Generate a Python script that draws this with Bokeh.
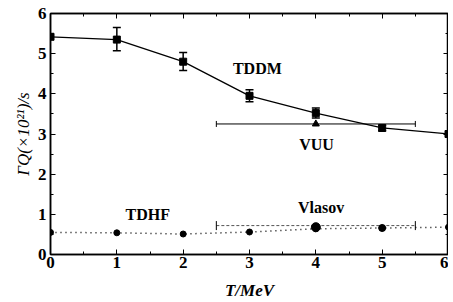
from bokeh.plotting import figure
from bokeh.models import Range1d, LinearAxis, Whisker, ColumnDataSource, Label, SingleIntervalTicker
from bokeh.embed import file_html
from bokeh.resources import INLINE

# TDDM
tddm_T = [0, 1, 2, 3, 4, 5, 6]
tddm_G = [5.42, 5.35, 4.80, 3.95, 3.52, 3.15, 3.00]
tddm_lo = [5.42, 5.07, 4.58, 3.80, 3.40, 3.08, 3.00]
tddm_hi = [5.42, 5.65, 5.03, 4.10, 3.65, 3.22, 3.00]

# VUU
vuu_T = [4]
vuu_G = [3.25]
vuu_Tlo = [2.5]
vuu_Thi = [5.5]

# TDHF
tdhf_T = [0, 1, 2, 3, 4, 5, 6]
tdhf_G = [0.55, 0.54, 0.51, 0.56, 0.64, 0.66, 0.68]

# Vlasov
vl_T = [4, 5]
vl_G = [0.68, 0.66]
vl_Tlo = [2.5]
vl_Thi = [5.5]
vl_Gbar = [0.72]

FONT = "Liberation Serif"

p = figure(width=448, height=302, output_backend="svg", toolbar_location=None,
           x_range=Range1d(0, 6), y_range=Range1d(0, 6),
           min_border_left=50, min_border_right=0, min_border_top=13, min_border_bottom=46)
p.grid.visible = False
p.outline_line_color = "black"
p.outline_line_width = 1.5

for ax in [p.xaxis[0], p.yaxis[0]]:
    ax.ticker = SingleIntervalTicker(interval=1, num_minor_ticks=2)
    ax.major_tick_in = 5
    ax.major_tick_out = 0
    ax.minor_tick_in = 3
    ax.minor_tick_out = 0
    ax.axis_line_width = 1.5
    ax.major_label_text_font = FONT
    ax.major_label_text_font_style = "bold"
    ax.major_label_text_font_size = "17px"
    ax.major_label_text_color = "black"
    ax.axis_label_text_font = FONT
    ax.axis_label_text_font_size = "17px"
    ax.axis_label_text_font_style = "bold italic"
    ax.axis_label_text_color = "black"

p.xaxis.major_label_standoff = 2
p.yaxis.major_label_standoff = 4
p.xaxis.axis_label = "T/MeV"
p.xaxis.axis_label_standoff = 10
p.yaxis.axis_label = "ΓQ(×10²¹)/s"
p.yaxis.axis_label_standoff = 2
p.yaxis.axis_label_text_font_style = "italic"

for loc in ["right", "above"]:
    ax = LinearAxis(ticker=SingleIntervalTicker(interval=1, num_minor_ticks=2),
                    major_label_overrides={i: "" for i in range(7)},
                    major_tick_in=5, major_tick_out=0,
                    minor_tick_in=3, minor_tick_out=0, axis_line_width=1.5)
    p.add_layout(ax, loc)

# TDDM
p.line(tddm_T, tddm_G, line_color="black", line_width=1.3)
p.scatter(tddm_T, tddm_G, marker="square", size=7, color="black")
src = ColumnDataSource(dict(x=tddm_T[1:6], lo=tddm_lo[1:6], hi=tddm_hi[1:6]))
w = Whisker(base="x", lower="lo", upper="hi", source=src, line_width=1.5)
w.upper_head.size = 8
w.lower_head.size = 8
w.upper_head.line_width = 1.5
w.lower_head.line_width = 1.5
p.add_layout(w)

# VUU
vsrc = ColumnDataSource(dict(y=vuu_G, lo=vuu_Tlo, hi=vuu_Thi))
wv = Whisker(base="y", lower="lo", upper="hi", dimension="width", source=vsrc, line_width=1)
wv.upper_head.size = 6
wv.lower_head.size = 6
p.add_layout(wv)
p.scatter(vuu_T, vuu_G, marker="triangle", size=7, color="black")

# TDHF
p.line(tdhf_T, tdhf_G, line_color="black", line_dash="1 4", line_width=1.5)
p.scatter(tdhf_T, tdhf_G, marker="circle", size=6, color="black")

# Vlasov
lsrc = ColumnDataSource(dict(y=vl_Gbar, lo=vl_Tlo, hi=vl_Thi))
wl = Whisker(base="y", lower="lo", upper="hi", dimension="width", source=lsrc,
             line_width=1, line_dash="3 2", line_color="#555555")
wl.upper_head.size = 9
wl.lower_head.size = 9
p.add_layout(wl)
p.scatter(vl_T, vl_G, marker="circle", size=[9, 7], color="black")

for txt, x, y in [("TDDM", 2.75, 4.42), ("VUU", 3.75, 2.52), ("TDHF", 1.13, 0.79), ("Vlasov", 3.73, 0.97)]:
    p.add_layout(Label(x=x, y=y, text=txt, text_font=FONT, text_font_style="bold",
                       text_font_size="16px", text_color="black"))

open("out.html", "w").write(file_html(p, INLINE))
